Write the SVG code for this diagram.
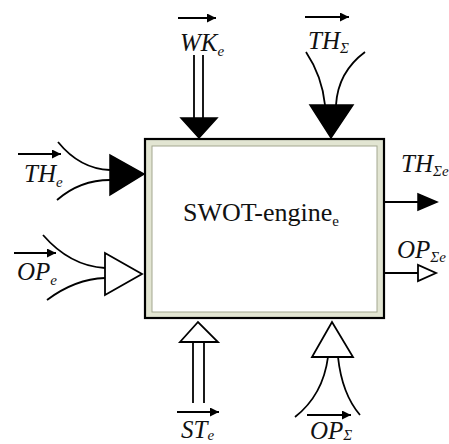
<svg xmlns="http://www.w3.org/2000/svg" width="449" height="444" viewBox="0 0 449 444">
<style>
.ln{fill:none;stroke:#000;stroke-width:1.8}
.fh{fill:#000;stroke:#000;stroke-width:1.5;stroke-linejoin:miter}
.oh{fill:#fff;stroke:#000;stroke-width:1.8;stroke-linejoin:miter}
.lb{font-family:"Times New Roman",Times,Tinos,"Liberation Serif","Nimbus Roman","DejaVu Serif",serif;font-style:italic;font-size:25px;fill:#111}
.sb{font-size:15px}
.ttl{font-family:"Times New Roman",Times,Tinos,"Liberation Serif","Nimbus Roman","DejaVu Serif",serif;font-size:26px;fill:#111}
</style>
<defs>
<marker id="ah" markerUnits="userSpaceOnUse" markerWidth="10" markerHeight="10" refX="9" refY="4.5" orient="auto">
<path d="M0,0 L9,4.5 L0,9 Z" fill="#000"/>
</marker>
</defs>
<rect width="449" height="444" fill="#fff"/>
<g id="engine">
<rect x="145" y="139" width="239" height="179" fill="#e2e5d2" stroke="#000" stroke-width="2.2"/>
<rect x="152" y="146" width="225" height="166" fill="#fff" stroke="#a3a890" stroke-width="1"/>
<text class="ttl" x="183" y="221">SWOT-engine<tspan class="sb" dy="5">e</tspan></text>
</g>
<g id="connectors">
<line class="ln" x1="194" y1="55" x2="194" y2="118"/>
<line class="ln" x1="203" y1="55" x2="203" y2="118"/>
<polygon class="fh" points="181,118 217,118 199,138"/>
<path class="ln" d="M306,52 Q322,76 325,105"/>
<path class="ln" d="M365,52 Q338,72 336,105"/>
<polygon class="fh" points="310,105 353,105 331,138"/>
<path class="ln" d="M58,142 Q80,169 110,170"/>
<path class="ln" d="M57,200 Q80,180 110,180"/>
<polygon class="fh" points="110,155 110,195 144,174"/>
<path class="ln" d="M43,235 Q70,266 105,268"/>
<path class="ln" d="M47,300 Q75,279 105,278"/>
<polygon class="oh" points="105,253 105,295 142,274"/>
<line class="ln" x1="385" y1="202" x2="419" y2="202"/>
<polygon class="fh" points="418,194 418,210 437,202"/>
<line class="ln" x1="385" y1="273" x2="418" y2="273"/>
<polygon class="oh" points="418,265 418,281 436,273"/>
<line class="ln" x1="193" y1="342" x2="193" y2="403"/>
<line class="ln" x1="204" y1="342" x2="204" y2="403"/>
<polygon class="oh" points="180,342 218,342 198,322"/>
<path class="ln" d="M328,357 Q323,395 295,417"/>
<path class="ln" d="M338,357 Q342,394 360,415"/>
<polygon class="oh" points="312,357 353,357 332,322"/>
</g>
<g id="labels">
<g id="lbl-wk">
<line class="ln" x1="178" y1="18" x2="216" y2="18" marker-end="url(#ah)"/>
<text class="lb" x="180" y="51">WK<tspan class="sb" dy="5">e</tspan></text>
</g>
<g id="lbl-thsigma">
<line class="ln" x1="305" y1="17" x2="349" y2="17" marker-end="url(#ah)"/>
<text class="lb" x="308" y="49">TH<tspan class="sb" dy="4">Σ</tspan></text>
</g>
<g id="lbl-the">
<line class="ln" x1="18" y1="154" x2="61" y2="154" marker-end="url(#ah)"/>
<text class="lb" x="24" y="182">TH<tspan class="sb" dy="5">e</tspan></text>
</g>
<g id="lbl-ope">
<line class="ln" x1="14" y1="253" x2="56" y2="253" marker-end="url(#ah)"/>
<text class="lb" x="17" y="280">OP<tspan class="sb" dy="5">e</tspan></text>
</g>
<g id="lbl-thsigmae">
<text class="lb" x="401" y="172">TH<tspan class="sb" dy="4">Σe</tspan></text>
</g>
<g id="lbl-opsigmae">
<text class="lb" x="397" y="258">OP<tspan class="sb" dy="4">Σe</tspan></text>
</g>
<g id="lbl-ste">
<line class="ln" x1="177" y1="412" x2="219" y2="412" marker-end="url(#ah)"/>
<text class="lb" x="181" y="438">ST<tspan class="sb" dy="2">e</tspan></text>
</g>
<g id="lbl-opsigma">
<line class="ln" x1="307" y1="415" x2="351" y2="415" marker-end="url(#ah)"/>
<text class="lb" x="310" y="439">OP<tspan class="sb" dy="1">Σ</tspan></text>
</g>
</g>
</svg>
